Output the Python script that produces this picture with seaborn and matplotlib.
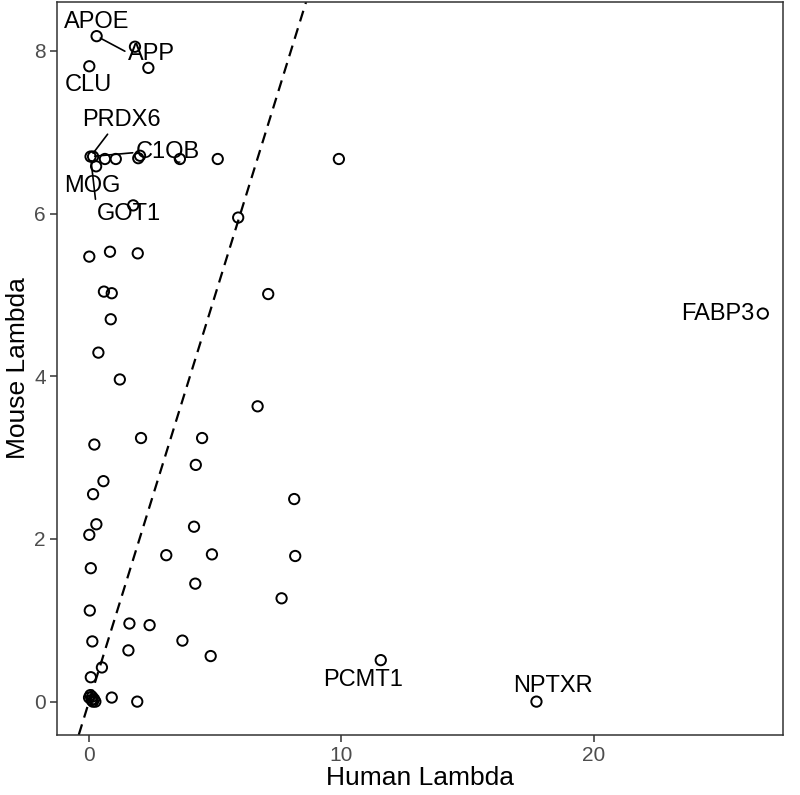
import matplotlib
matplotlib.use("Agg")
import numpy as np
import pandas as pd
import matplotlib.pyplot as plt
import seaborn as sns

# lambda values per gene
human_lambda = [
    0.30, 1.82, 2.35, 0.01,
    0.06, 0.16, 0.63, 1.06, 1.95, 2.02, 3.60, 5.10, 9.90, 0.28,
    1.75, 5.91,
    0.01, 0.83, 1.93, 0.59, 0.90, 7.10, 0.86, 0.37, 1.22, 6.68,
    0.21, 2.06, 4.48, 4.23,
    0.57, 0.16, 8.13, 0.29, 0.01, 4.16, 3.06, 4.87, 8.17, 0.07,
    4.21, 7.63, 0.03, 1.60, 2.40, 0.13, 1.56, 3.70, 4.82, 0.51, 0.07,
    0.00, 0.05, 0.10, 0.15, 0.20, 0.25, 0.12, 0.90, 1.91,
    11.56, 17.73, 26.70,
]
mouse_lambda = [
    8.18, 8.05, 7.79, 7.81,
    6.70, 6.70, 6.67, 6.67, 6.68, 6.71, 6.67, 6.67, 6.67, 6.58,
    6.10, 5.95,
    5.47, 5.53, 5.51, 5.04, 5.02, 5.01, 4.70, 4.29, 3.96, 3.63,
    3.16, 3.24, 3.24, 2.91,
    2.71, 2.55, 2.49, 2.18, 2.05, 2.15, 1.80, 1.81, 1.79, 1.64,
    1.45, 1.27, 1.12, 0.96, 0.94, 0.74, 0.63, 0.75, 0.56, 0.42, 0.30,
    0.05, 0.08, 0.02, 0.00, 0.03, 0.00, 0.06, 0.05, 0.00,
    0.51, 0.00, 4.77,
]

# labelled genes and the point each label belongs to
label_genes = ["APOE", "APP", "CLU", "PRDX6", "C1QB", "MOG", "GOT1", "PCMT1", "NPTXR", "FABP3"]
label_human = [0.30, 0.30, 0.01, 0.06, 0.06, 0.16, 0.06, 11.56, 17.73, 26.70]
label_mouse = [8.18, 8.18, 7.81, 6.70, 6.70, 6.70, 6.70, 0.51, 0.00, 4.77]

# label placement (repel-style offsets) and segment anchors on the text box
label_offsets = [(0.02, 0.17), (2.18, -0.22), (-0.05, -0.23), (1.21, 0.45), (3.07, 0.05),
                 (-0.02, -0.36), (1.52, -0.70), (-0.70, -0.24), (0.65, 0.19), (-1.78, 0.0)]
segment_relpos = [None, (0, 0.55), None, (0.36, 0), (0, 0.5),
                  None, (0, 0.6), None, None, None]

df = pd.DataFrame({"human": human_lambda, "mouse": mouse_lambda})

sns.set_theme(style="white")
plt.rcParams["font.family"] = ["Liberation Sans", "DejaVu Sans"]

fig = plt.figure(figsize=(8, 7.95), dpi=100)
ax = fig.add_axes([0.07125, 0.0755, 0.9075, 0.922])

ax.axline((0, 0), slope=1, color="black", lw=1.6, ls=(0, (5, 3.2)), zorder=1)

sns.scatterplot(data=df, x="human", y="mouse", ax=ax, s=55,
                facecolor="none", edgecolor="black", linewidth=1.4, zorder=3)

for gene, hx, my, (dx, dy), rel in zip(label_genes, label_human, label_mouse,
                                       label_offsets, segment_relpos):
    if rel is None:
        ax.text(hx + dx, my + dy, gene, ha="center", va="center",
                fontsize=17, color="black", zorder=4)
    else:
        ax.annotate(gene, xy=(hx, my), xytext=(hx + dx, my + dy),
                    ha="center", va="center", fontsize=17, color="black", zorder=4,
                    arrowprops=dict(arrowstyle="-", color="black", lw=1.2,
                                    relpos=rel, shrinkA=0, shrinkB=3))

ax.set_xlim(-1.27, 27.5)
ax.set_ylim(-0.41, 8.6)
ax.set_xticks([0, 10, 20])
ax.set_yticks([0, 2, 4, 6, 8])

ax.set_xlabel("Human Lambda", fontsize=19, color="black", labelpad=1)
ax.set_ylabel("Mouse Lambda", fontsize=19, color="black", labelpad=3)

ax.tick_params(axis="both", which="major", direction="out", length=5, width=1.1,
               color="#333333", labelsize=15, labelcolor="#4D4D4D", pad=3,
               bottom=True, left=True)
for sp in ax.spines.values():
    sp.set_color("#333333")
    sp.set_linewidth(1.1)

ax.grid(False)
fig.savefig("out.png", dpi=100)
